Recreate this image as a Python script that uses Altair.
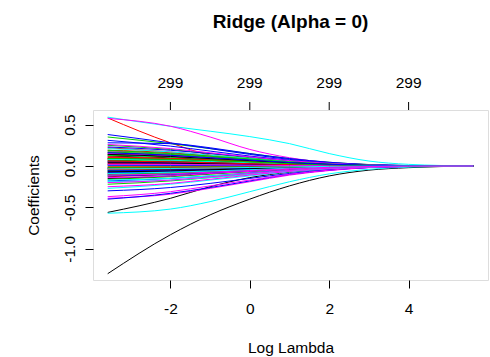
import altair as alt
import pandas as pd

# Log-lambda knots at which each coefficient path is sampled
KNOTS = [-3.58, -2.0, -1.0, 0.0, 1.0, 2.0, 3.0, 4.0, 5.63]

# Coefficient paths (one list per predictor, values at KNOTS)
PATHS = [
    [-1.30, -0.83, -0.59, -0.40, -0.24, -0.12, -0.05, -0.02, 0.0],
    [0.58, 0.28, 0.13, 0.07, 0.04, 0.02, 0.008, 0.003, 0.0],
    [0.35, 0.27, 0.21, 0.15, 0.09, 0.045, 0.018, 0.006, 0.0],
    [0.38, 0.28, 0.21, 0.14, 0.08, 0.04, 0.015, 0.005, 0.0],
    [0.59, 0.48, 0.42, 0.355, 0.27, 0.15, 0.06, 0.02, 0.0],
    [0.575, 0.48, 0.35, 0.20, 0.10, 0.04, 0.015, 0.005, 0.0],
    [-0.56, -0.39, -0.25, -0.14, -0.075, -0.035, -0.013, -0.004, 0.0],
    [0.22, 0.17, 0.13, 0.09, 0.05, 0.025, 0.01, 0.003, 0.0],
    [-0.22, -0.18, -0.14, -0.10, -0.06, -0.03, -0.011, -0.004, 0.0],
    [0.28, 0.27, 0.22, 0.15, 0.09, 0.045, 0.017, 0.005, 0.0],
    [-0.57, -0.52, -0.43, -0.31, -0.19, -0.095, -0.04, -0.013, 0.0],
    [-0.39, -0.34, -0.27, -0.19, -0.11, -0.055, -0.02, -0.006, 0.0],
    [0.12, 0.10, 0.08, 0.055, 0.032, 0.015, 0.006, 0.002, 0.0],
    [0.08, 0.07, 0.055, 0.04, 0.022, 0.011, 0.004, 0.001, 0.0],
    [-0.05, -0.04, -0.035, -0.025, -0.015, -0.008, -0.003, -0.001, 0.0],
    [-0.40, -0.33, -0.26, -0.18, -0.10, -0.05, -0.018, -0.005, 0.0],
    [-0.27, -0.22, -0.17, -0.12, -0.07, -0.035, -0.013, -0.004, 0.0],
    [0.18, 0.15, 0.12, 0.085, 0.05, 0.024, 0.009, 0.003, 0.0],
    [-0.10, -0.08, -0.06, -0.045, -0.027, -0.013, -0.005, -0.002, 0.0],
    [0.03, 0.03, 0.025, 0.02, 0.012, 0.006, 0.002, 0.001, 0.0],
    [0.25, 0.20, 0.15, 0.10, 0.06, 0.03, 0.011, 0.003, 0.0],
    [-0.30, -0.26, -0.21, -0.15, -0.09, -0.045, -0.017, -0.005, 0.0],
    [-0.12, -0.11, -0.09, -0.065, -0.04, -0.02, -0.007, -0.002, 0.0],
    [-0.37, -0.31, -0.24, -0.17, -0.10, -0.05, -0.018, -0.005, 0.0],
    [0.02, 0.015, 0.012, 0.008, 0.005, 0.002, 0.001, 0.0, 0.0],
    [0.14, 0.12, 0.095, 0.07, 0.04, 0.02, 0.008, 0.002, 0.0],
    [-0.16, -0.13, -0.10, -0.07, -0.04, -0.02, -0.008, -0.002, 0.0],
    [0.31, 0.24, 0.18, 0.12, 0.07, 0.035, 0.013, 0.004, 0.0],
    [0.05, 0.045, 0.04, 0.03, 0.018, 0.009, 0.003, 0.001, 0.0],
    [0.10, 0.085, 0.07, 0.05, 0.03, 0.015, 0.005, 0.002, 0.0],
    [-0.02, -0.02, -0.015, -0.012, -0.007, -0.004, -0.001, 0.0, 0.0],
    [-0.07, -0.06, -0.05, -0.035, -0.02, -0.01, -0.004, -0.001, 0.0],
    [0.07, 0.06, 0.05, 0.035, 0.02, 0.01, 0.004, 0.001, 0.0],
    [-0.18, -0.15, -0.12, -0.085, -0.05, -0.025, -0.009, -0.003, 0.0],
    [-0.19, -0.17, -0.14, -0.10, -0.06, -0.03, -0.011, -0.003, 0.0],
    [-0.08, -0.07, -0.055, -0.04, -0.024, -0.012, -0.004, -0.001, 0.0],
    [0.16, 0.13, 0.10, 0.07, 0.04, 0.02, 0.007, 0.002, 0.0],
    [-0.13, -0.10, -0.075, -0.05, -0.03, -0.015, -0.005, -0.002, 0.0],
    [0.0, 0.0, 0.002, 0.002, 0.001, 0.001, 0.0, 0.0, 0.0],
    [0.23, 0.19, 0.15, 0.11, 0.065, 0.03, 0.012, 0.004, 0.0],
    [0.13, 0.11, 0.09, 0.065, 0.04, 0.02, 0.007, 0.002, 0.0],
    [-0.25, -0.21, -0.16, -0.11, -0.065, -0.032, -0.012, -0.004, 0.0],
    [0.06, 0.05, 0.04, 0.03, 0.018, 0.009, 0.003, 0.001, 0.0],
    [0.19, 0.16, 0.12, 0.08, 0.045, 0.022, 0.008, 0.002, 0.0],
    [-0.09, -0.08, -0.065, -0.05, -0.03, -0.015, -0.005, -0.002, 0.0],
    [-0.03, -0.03, -0.025, -0.02, -0.012, -0.006, -0.002, -0.001, 0.0],
    [-0.06, -0.05, -0.04, -0.03, -0.018, -0.009, -0.003, -0.001, 0.0],
    [0.04, 0.035, 0.03, 0.022, 0.013, 0.006, 0.002, 0.001, 0.0],
    [-0.15, -0.12, -0.09, -0.06, -0.035, -0.017, -0.006, -0.002, 0.0],
    [0.10, 0.09, 0.075, 0.055, 0.033, 0.016, 0.006, 0.002, 0.0],
    [0.17, 0.14, 0.11, 0.08, 0.047, 0.023, 0.008, 0.003, 0.0],
    [-0.12, -0.10, -0.08, -0.06, -0.035, -0.018, -0.006, -0.002, 0.0],
    [0.21, 0.17, 0.13, 0.09, 0.05, 0.025, 0.009, 0.003, 0.0],
    [-0.14, -0.12, -0.09, -0.065, -0.04, -0.02, -0.007, -0.002, 0.0],
    [0.09, 0.075, 0.06, 0.045, 0.027, 0.013, 0.005, 0.001, 0.0],
    [-0.01, -0.01, -0.008, -0.006, -0.004, -0.002, -0.001, 0.0, 0.0],
    [-0.11, -0.09, -0.07, -0.05, -0.03, -0.015, -0.005, -0.002, 0.0],
    [0.05, 0.04, 0.035, 0.025, 0.015, 0.007, 0.003, 0.001, 0.0],
    [-0.17, -0.15, -0.12, -0.09, -0.055, -0.027, -0.01, -0.003, 0.0],
    [0.26, 0.21, 0.16, 0.11, 0.065, 0.032, 0.012, 0.004, 0.0],
    [-0.05, -0.045, -0.035, -0.025, -0.015, -0.008, -0.003, -0.001, 0.0],
    [0.11, 0.09, 0.07, 0.05, 0.03, 0.015, 0.005, 0.002, 0.0],
    [-0.02, -0.015, -0.012, -0.01, -0.006, -0.003, -0.001, 0.0, 0.0],
    [-0.08, -0.07, -0.055, -0.04, -0.025, -0.012, -0.004, -0.001, 0.0],
    [0.08, 0.07, 0.055, 0.04, 0.024, 0.012, 0.004, 0.001, 0.0],
    [-0.20, -0.17, -0.13, -0.09, -0.055, -0.027, -0.01, -0.003, 0.0],
    [0.04, 0.035, 0.028, 0.02, 0.012, 0.006, 0.002, 0.001, 0.0],
    [-0.04, -0.035, -0.028, -0.02, -0.012, -0.006, -0.002, -0.001, 0.0],
    [0.13, 0.11, 0.085, 0.06, 0.035, 0.017, 0.006, 0.002, 0.0],
    [-0.06, -0.05, -0.04, -0.03, -0.018, -0.009, -0.003, -0.001, 0.0],
    [0.01, 0.01, 0.008, 0.006, 0.004, 0.002, 0.001, 0.0, 0.0],
    [0.15, 0.12, 0.095, 0.068, 0.04, 0.02, 0.007, 0.002, 0.0],
    [-0.07, -0.06, -0.045, -0.033, -0.02, -0.01, -0.004, -0.001, 0.0],
    [0.06, 0.05, 0.04, 0.028, 0.017, 0.008, 0.003, 0.001, 0.0],
    [0.19, 0.15, 0.12, 0.085, 0.05, 0.024, 0.009, 0.003, 0.0],
    [0.01, 0.008, 0.006, 0.004, 0.002, 0.001, 0.0, 0.0, 0.0],
    [-0.09, -0.075, -0.06, -0.045, -0.027, -0.013, -0.005, -0.001, 0.0],
    [0.02, 0.018, 0.014, 0.01, 0.006, 0.003, 0.001, 0.0, 0.0],
    [0.14, 0.115, 0.09, 0.065, 0.038, 0.019, 0.007, 0.002, 0.0],
    [-0.03, -0.025, -0.02, -0.015, -0.009, -0.004, -0.002, 0.0, 0.0],
    [0.09, 0.08, 0.065, 0.048, 0.028, 0.014, 0.005, 0.001, 0.0],
    [0.16, 0.13, 0.10, 0.072, 0.042, 0.021, 0.008, 0.002, 0.0],
    [-0.035, -0.03, -0.024, -0.018, -0.011, -0.005, -0.002, -0.001, 0.0],
    [-0.11, -0.095, -0.075, -0.055, -0.033, -0.016, -0.006, -0.002, 0.0],
]

# Classic base-R matplot colour cycle
PALETTE = ["#000000", "#FF0000", "#00CD00", "#0000FF", "#00FFFF", "#FF00FF"]

# Tick positions / labels
X_TICKS = [-2, 0, 2, 4]
TOP_LABELS = ["299", "299", "299", "299"]
Y_TICKS = [-1.0, -0.5, 0.0, 0.5]

FONT = "Liberation Sans"
FS = 15.5

rows = []
for i, path in enumerate(PATHS):
    for k, v in zip(KNOTS, path):
        rows.append({"var": i, "loglambda": k, "coef": v,
                     "colour": PALETTE[i % len(PALETTE)]})
df = pd.DataFrame(rows)

top_df = pd.DataFrame({"pos": X_TICKS, "label": TOP_LABELS})

x_scale = alt.Scale(domain=[-3.95, 6.0], nice=False, zero=False)
y_scale = alt.Scale(domain=[-1.376, 0.676], nice=False, zero=False)

paths = alt.Chart(df).mark_line(strokeWidth=1, interpolate="monotone").encode(
    x=alt.X("loglambda:Q", scale=x_scale,
            axis=alt.Axis(values=X_TICKS, title="Log Lambda",
                          labelExpr="'' + datum.value",
                          domain=False, grid=False, tickSize=8,
                          tickColor="black", labelColor="black",
                          labelFont=FONT, labelFontSize=FS, labelPadding=13,
                          titleFont=FONT, titleFontSize=FS,
                          titleFontWeight="normal", titleColor="black",
                          titleBaseline="middle", titleY=67)),
    y=alt.Y("coef:Q", scale=y_scale,
            axis=alt.Axis(values=Y_TICKS, title="Coefficients",
                          labelExpr="replace(format(datum.value, '.1f'), '\u2212', '-')",
                          domain=False, grid=False, tickSize=8,
                          tickColor="black", labelColor="black",
                          labelAngle=-90, labelAlign="center",
                          labelBaseline="bottom", labelPadding=8,
                          labelFont=FONT, labelFontSize=FS,
                          titleFont=FONT, titleFontSize=FS,
                          titleFontWeight="normal", titleColor="black",
                          titleAngle=-90, titleAlign="center",
                          titleBaseline="middle", titleX=-60, titleY=85)),
    color=alt.Color("colour:N", scale=None),
    detail="var:N",
)

# Top axis: tick marks and the count of non-zero coefficients
top_ticks = alt.Chart(top_df).mark_rule(color="black", strokeWidth=1).encode(
    x=alt.X("pos:Q", scale=x_scale),
    y=alt.value(-8),
    y2=alt.value(0),
)
top_text = alt.Chart(top_df).mark_text(
    font=FONT, fontSize=FS, color="black", baseline="middle"
).encode(
    x=alt.X("pos:Q", scale=x_scale),
    y=alt.value(-27),
    text="label:N",
)

chart = alt.layer(paths, top_ticks, top_text).properties(
    width=395,
    height=170,
    title=alt.TitleParams("Ridge (Alpha = 0)", font=FONT, fontSize=19,
                          fontWeight="bold", color="black", anchor="middle",
                          offset=44),
    autosize=alt.AutoSizeParams(type="none"),
    padding={"left": 93, "top": 110, "right": 2, "bottom": 77},
).configure_view(stroke="black", strokeWidth=1).configure(background="white")

chart.save("out.html", embed_options={"renderer": "svg", "actions": False})
